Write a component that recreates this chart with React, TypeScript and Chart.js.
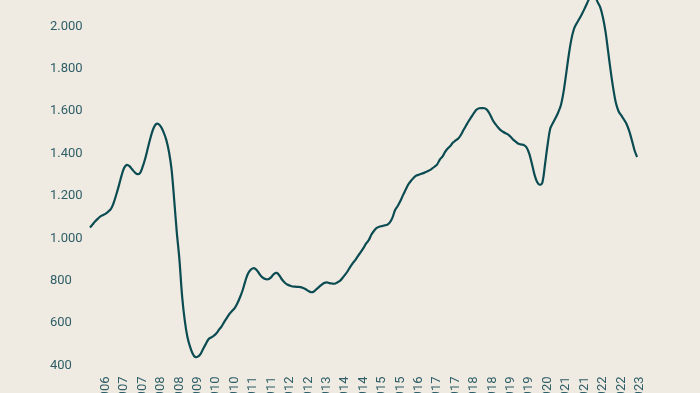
import React, { useEffect, useRef } from "react";
import { Chart, registerables } from "chart.js";

Chart.register(...registerables);

// Monthly values, Jan 2006 .. May 2023
const values = [
  1051, 1066, 1081, 1093, 1104, 1110, 1117, 1127, 1140, 1168,
  1207, 1250, 1296, 1333, 1347, 1341, 1326, 1312, 1303, 1308,
  1337, 1377, 1426, 1475, 1515, 1538, 1540, 1526, 1500, 1465,
  1410, 1327, 1183, 1028, 900, 730, 615, 537, 490, 457,
  440, 442, 454, 478, 501, 523, 532, 540, 551, 568,
  584, 605, 624, 643, 657, 671, 693, 721, 754, 796,
  832, 851, 859, 855, 840, 822, 812, 807, 808, 818,
  833, 837, 825, 806, 792, 782, 777, 773, 772, 771,
  770, 766, 760, 752, 746, 748, 759, 770, 780, 789,
  792, 789, 787, 786, 792, 799, 813, 829, 846, 867,
  884, 900, 919, 936, 955, 976, 992, 1018, 1036, 1049,
  1055, 1058, 1061, 1064, 1075, 1098, 1134, 1153, 1176, 1204,
  1229, 1254, 1271, 1285, 1296, 1300, 1305, 1309, 1315, 1321,
  1329, 1338, 1349, 1372, 1386, 1408, 1424, 1436, 1452, 1462,
  1471, 1488, 1511, 1533, 1554, 1573, 1592, 1608, 1614, 1615,
  1614, 1606, 1587, 1561, 1541, 1526, 1512, 1503, 1496, 1490,
  1478, 1465, 1455, 1446, 1443, 1440, 1429, 1400, 1353, 1301,
  1266, 1253, 1264, 1349, 1443, 1518, 1544, 1568, 1594, 1627,
  1688, 1773, 1863, 1938, 1988, 2014, 2035, 2058, 2083, 2110,
  2136, 2152, 2142, 2115, 2090, 2044, 1976, 1882, 1787, 1703,
  1636, 1599, 1580, 1561, 1540, 1507, 1464, 1417, 1384,
];

// Month categories Jan 2006 .. Jun 2023
const firstYear = 2006;
const monthCount = 210;
const months = Array.from(
  { length: monthCount },
  (_, i) => `${firstYear + Math.floor(i / 12)}-${String((i % 12) + 1).padStart(2, "0")}`
);
const labelFirst = 6;
const labelEvery = 7;

const yMin = 400;
const yMax = 2200;
const yStep = 200;

const BG = "#EFEBE2";
const TEXT = "#2F5E67";
const LINE = "#0B4B52";

const fmt = (v: number) =>
  String(Math.round(v)).replace(/\B(?=(\d{3})+(?!\d))/g, ".");

export default function App() {
  const ref = useRef<HTMLCanvasElement>(null);
  useEffect(() => {
    document.body.style.background = BG;
    const font = { family: "Roboto, 'Noto Sans', sans-serif", size: 13 };
    const chart = new Chart(ref.current!, {
      type: "line",
      data: {
        labels: months,
        datasets: [
          {
            data: values,
            borderColor: LINE,
            borderWidth: 2.2,
            pointRadius: 0,
            tension: 0.35,
            fill: false,
          },
        ],
      },
      options: {
        animation: false,
        responsive: false,
        layout: { padding: { left: 50, right: 60.3, top: 11.1, bottom: 0 } },
        plugins: { legend: { display: false }, tooltip: { enabled: false } },
        scales: {
          x: {
            grid: { display: false },
            border: { display: false },
            afterFit: (a: any) => {
              a.height = 39.5;
            },
            ticks: {
              autoSkip: false,
              minRotation: 90,
              maxRotation: 90,
              color: TEXT,
              font,
              padding: 3,
              callback: (_v: any, i: number) =>
                i >= labelFirst && (i - labelFirst) % labelEvery === 0
                  ? months[i].slice(0, 4)
                  : null,
            },
          },
          y: {
            min: yMin,
            max: yMax,
            afterFit: (a: any) => {
              a.width = 40;
            },
            grid: { display: false },
            border: { display: false },
            ticks: {
              stepSize: yStep,
              crossAlign: "far",
              color: TEXT,
              font,
              callback: (v: any) => fmt(Number(v)),
            },
          },
        },
      },
    } as any);
    return () => chart.destroy();
  }, []);
  return (
    <div
      style={{
        position: "fixed",
        left: 0,
        top: -27,
        width: 700,
        height: 432,
        background: BG,
      }}
    >
      <canvas ref={ref} width={700} height={432} style={{ display: "block" }} />
    </div>
  );
}
